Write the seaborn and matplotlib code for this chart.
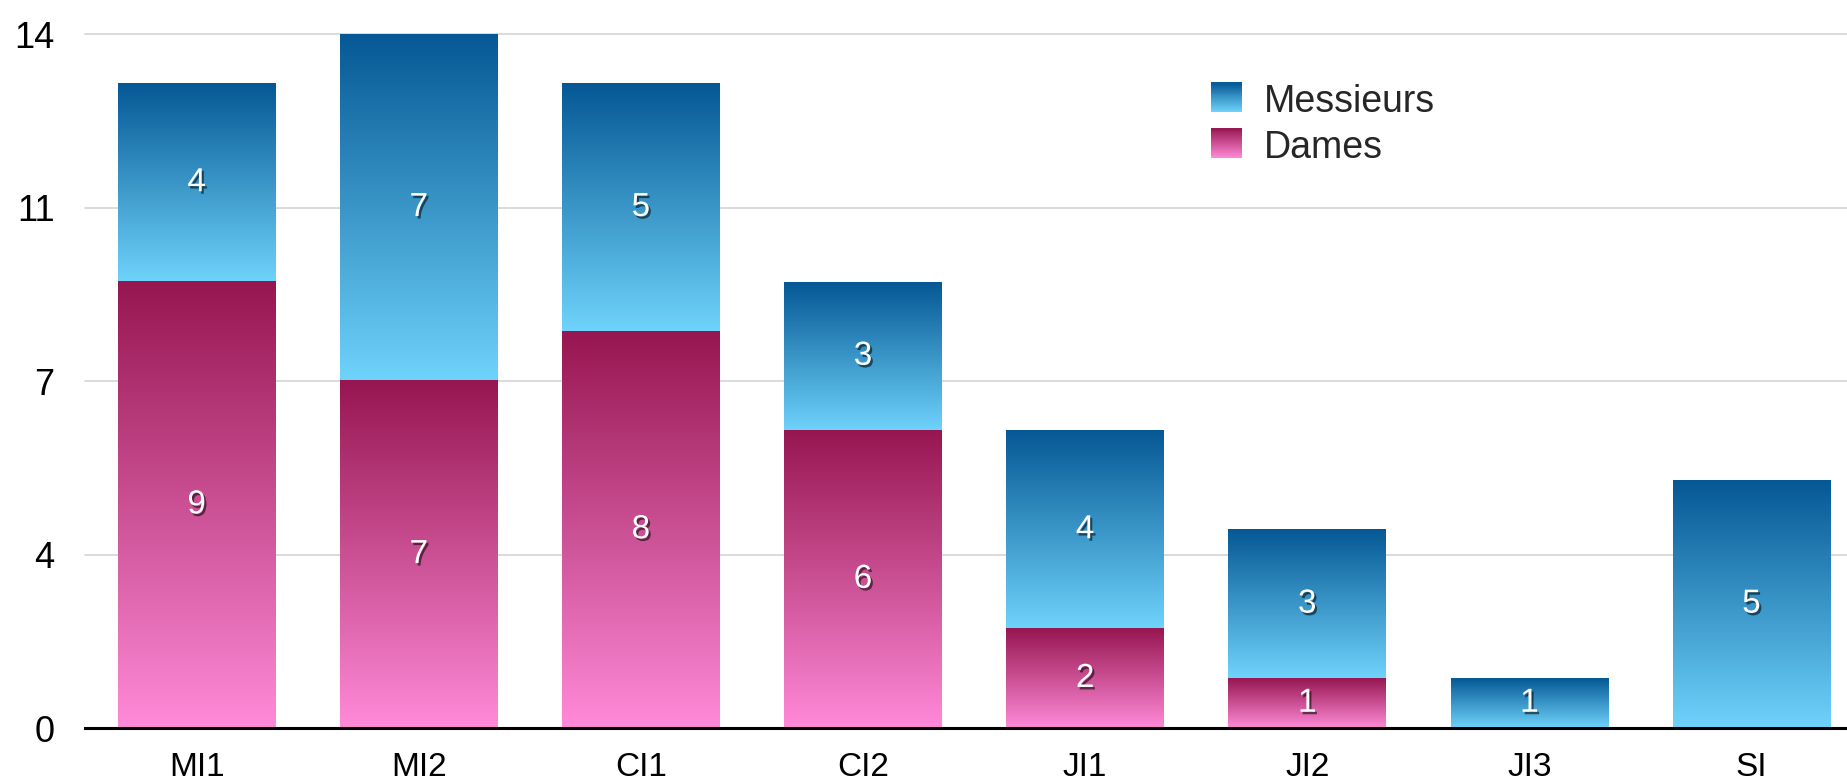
import numpy as np
import matplotlib
matplotlib.use("Agg")
import matplotlib.pyplot as plt
import matplotlib.patheffects as pe
from matplotlib.colors import LinearSegmentedColormap
from matplotlib.patches import Rectangle
import seaborn as sns

# data
categories = ["MI1", "MI2", "CI1", "CI2", "JI1", "JI2", "JI3", "SI"]
dames = [9, 7, 8, 6, 2, 1, 0, 0]
messieurs = [4, 7, 5, 3, 4, 3, 1, 5]
series_names = ["Messieurs", "Dames"]
ytick_vals = [0, 3.5, 7, 10.5, 14]
ytick_labels = ["0", "4", "7", "11", "14"]

totals = [d + m for d, m in zip(dames, messieurs)]

blue_dark, blue_light = "#055894", "#6fd3fb"
pink_dark, pink_light = "#961650", "#ff8ad8"
cmap_blue = LinearSegmentedColormap.from_list("blue", [blue_light, blue_dark])
cmap_pink = LinearSegmentedColormap.from_list("pink", [pink_light, pink_dark])

sns.set_style("white")
plt.rcParams['font.family'] = ['Liberation Sans', 'DejaVu Sans']

fig = plt.figure(figsize=(18.47, 7.82), dpi=100)
ax = fig.add_axes([0.046, 0.069, 0.954, 0.8875])

sns.barplot(x=categories, y=totals, color=blue_dark, width=0.71, ax=ax, zorder=2)
sns.barplot(x=categories, y=dames, color=pink_dark, width=0.71, ax=ax, zorder=2)

n = len(categories)
grad = np.linspace(0, 1, 256).reshape(-1, 1)
shadow = [pe.SimplePatchShadow(offset=(1.5, -1.8), shadow_rgbFace="black", alpha=0.55), pe.Normal()]

for i, p in enumerate(ax.patches[:n]):
    x0, w = p.get_x(), p.get_width()
    p.set_facecolor("none")
    p.set_edgecolor("none")
    ax.imshow(grad, extent=[x0, x0 + w, dames[i], totals[i]], aspect="auto",
              cmap=cmap_blue, origin="lower", interpolation="bilinear", zorder=2)
    ax.text(x0 + w / 2, dames[i] + messieurs[i] / 2, str(messieurs[i]), color="white",
            ha="center", va="center", fontsize=24, zorder=5, path_effects=shadow)

for i, p in enumerate(ax.patches[n:2 * n]):
    x0, w = p.get_x(), p.get_width()
    p.set_facecolor("none")
    p.set_edgecolor("none")
    if dames[i] == 0:
        continue
    ax.imshow(grad, extent=[x0, x0 + w, 0, dames[i]], aspect="auto",
              cmap=cmap_pink, origin="lower", interpolation="bilinear", zorder=3)
    ax.text(x0 + w / 2, dames[i] / 2, str(dames[i]), color="white",
            ha="center", va="center", fontsize=24, zorder=5, path_effects=shadow)

ax.set_xlim(-0.503, 7.43)
ax.set_ylim(0, 14)
ax.set_yticks(ytick_vals)
ax.set_yticklabels(ytick_labels)
ax.yaxis.grid(True, color="#d4d4d4", linewidth=1.2)
ax.set_axisbelow(True)
for g in ax.get_ygridlines():
    g.set_clip_on(False)
for s in ["top", "right", "left"]:
    ax.spines[s].set_visible(False)
ax.spines["bottom"].set_color("black")
ax.spines["bottom"].set_linewidth(2.2)
ax.spines["bottom"].set_zorder(6)
ax.tick_params(axis="both", length=0, colors="black")
ax.tick_params(axis="y", pad=22, labelsize=26)
ax.tick_params(axis="x", pad=17, labelsize=24)
ax.set_xlabel("")
ax.set_ylabel("")


class GradientHandler:
    def __init__(self, cmap):
        self.cmap = cmap

    def legend_artist(self, legend, orig_handle, fontsize, handlebox):
        w, h = handlebox.width, handlebox.height
        steps = 30
        for k in range(steps):
            c = self.cmap((k + 0.5) / steps)
            r = Rectangle((0, h * k / steps), w, h / steps + 0.3, facecolor=c,
                          edgecolor="none", transform=handlebox.get_transform())
            handlebox.add_artist(r)
        return r


h_m = Rectangle((0, 0), 1, 1)
h_d = Rectangle((0, 0), 1, 1)
leg = fig.legend([h_m, h_d], series_names, loc="upper left",
                 bbox_to_anchor=(1211 / 1847, 1 - 84 / 782), frameon=False,
                 fontsize=27, handlelength=0.82, handleheight=0.82,
                 handletextpad=0.6, labelspacing=0.26, borderaxespad=0, borderpad=0,
                 handler_map={h_m: GradientHandler(cmap_blue), h_d: GradientHandler(cmap_pink)})

fig.savefig("out.png", dpi=100)
